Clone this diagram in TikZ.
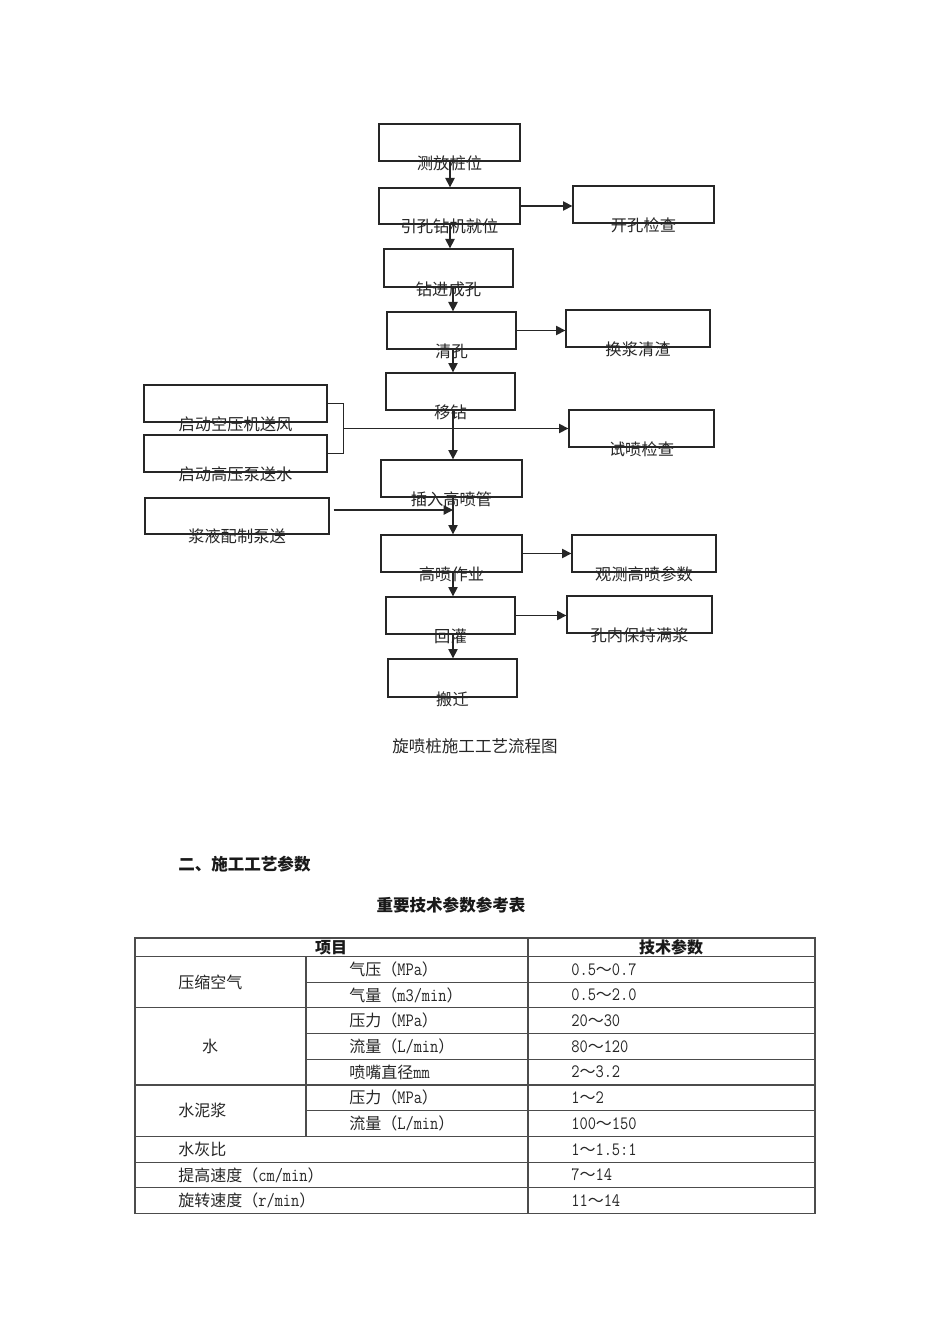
\documentclass[tikz,border=0pt]{standalone}
\usepackage{fontspec}
\usepackage{graphicx}
\setmainfont{Noto Sans CJK SC}
\usetikzlibrary{arrows.meta,calc}
\newcommand{\flowbox}[6]{%
  \node[box, minimum width=#4*0.75pt, minimum height=#5*0.75pt] (#1) at (#2,#3) {};
  \node[lbl] (#1-t) at ([yshift=-1pt]#1.south) {#6};}
\newcommand{\dg}[1]{\scalebox{1}[1.18]{\texttt{#1}}}
\begin{document}
\begin{tikzpicture}[x=0.75pt,y=-0.75pt,
  box/.style={draw=black!85, line width=1pt, inner sep=0pt, rectangle},
  lbl/.style={font=\fontsize{12.2}{14}\selectfont, text=black!85, inner sep=0pt},
  arr/.style={draw=black!85, line width=1pt, -{Triangle[length=7pt,width=7pt]}},
  ln/.style={draw=black!85, line width=1pt},
  tl/.style={draw=black!70, line width=0.8pt},
  tt/.style={font=\fontsize{12}{14}\selectfont, text=black!85, inner sep=0pt, anchor=west},
  ttc/.style={font=\fontsize{12}{14}\selectfont, text=black!85, inner sep=0pt},
  hd/.style={font=\fontsize{12.4}{14}\selectfont\bfseries, text=black!90, inner sep=0pt}]
\useasboundingbox[fill=white] (0,0) rectangle (950,1344);

% ---- flowchart boxes ----
\flowbox{tp}{449.5}{142.5}{141}{37}{测放桩位}
\flowbox{yk}{449.5}{206}{141}{36}{引孔钻机就位}
\flowbox{kk}{643.5}{204.5}{141}{37}{开孔检查}
\flowbox{zj}{448.5}{268}{129}{38}{钻进成孔}
\flowbox{qk}{451.5}{330.5}{129}{37}{清孔}
\flowbox{hj}{638}{328.5}{144}{37}{换浆清渣}
\flowbox{yz}{450.5}{391.5}{129}{37}{移钻}
\flowbox{kya}{235.5}{403.5}{183}{37}{启动空压机送风}
\flowbox{gyb}{235.5}{453.5}{183}{37}{启动高压泵送水}
\flowbox{sp}{641.5}{428.5}{145}{37}{试喷检查}
\flowbox{cr}{451.5}{478.5}{141}{37}{插入高喷管}
\flowbox{jy}{237}{516}{184}{36}{浆液配制泵送}
\flowbox{gp}{451.5}{553.5}{141}{37}{高喷作业}
\flowbox{gc}{644}{553.5}{144}{37}{观测高喷参数}
\flowbox{hg}{450.5}{615.5}{129}{37}{回灌}
\flowbox{mj}{639.5}{614.5}{145}{37}{孔内保持满浆}
\flowbox{bq}{452.5}{678}{129}{38}{搬迁}

% ---- spine ----
\coordinate (spineA) at (450,0);
\coordinate (spineB) at (453,0);
\draw[arr] (tp.south -| spineA) -- (yk.north -| spineA);
\draw[arr] (yk.south -| spineA) -- (zj.north -| spineA);
\draw[arr] (zj.south -| spineB) -- (qk.north -| spineB);
\draw[arr] (qk.south -| spineB) -- (yz.north -| spineB);
\draw[arr] (yz.south -| spineB) -- (cr.north -| spineB);
\draw[arr] (cr.south -| spineB) -- (gp.north -| spineB);
\draw[arr] (gp.south -| spineB) -- (hg.north -| spineB);
\draw[arr] (hg.south -| spineB) -- (bq.north -| spineB);

% ---- side arrows ----
\draw[arr] (yk.east) -- (yk.east -| kk.west);
\draw[arr] (qk.east) -- (qk.east -| hj.west);
\draw[arr] (gp.east) -- (gp.east -| gc.west);
\draw[arr] (hg.east) -- (hg.east -| mj.west);

% ---- bracket ----
\coordinate (bra) at ($(kya.east)+(16,0)$);
\draw[ln] (kya.east) -- (bra) |- (gyb.east);
\coordinate (brm) at ($(kya.east)!0.5!(gyb.east)+(16,0)$);
\draw[arr] (brm) -- (brm -| sp.west);

% ---- slurry feed ----
\coordinate (jyo) at ($(jy.east)+(4,-6)$);
\draw[arr] (jyo) -- (jyo -| spineB);

% ---- caption and headings ----
\node[lbl, font=\fontsize{12.4}{14}\selectfont] (cap) at (475,746) {旋喷桩施工工艺流程图};
\node[hd, anchor=west] (h2) at (178,864) {二、施工工艺参数};
\node[hd] (h3) at (451,905) {重要技术参数参考表};

% ---- table ----
\draw[tl] (135,938) rectangle (815,1213.5);
\draw[tl] (528,938) -- (528,1213.5);
\draw[tl] (306,956.5) -- (306,1136.4);
\draw[tl] (135,956.5) -- (815,956.5);
\draw[tl] (306,982.2) -- (815,982.2);
\draw[tl] (135,1007.9) -- (815,1007.9);
\draw[tl] (306,1033.6) -- (815,1033.6);
\draw[tl] (306,1059.3) -- (815,1059.3);
\draw[tl] (135,1085) -- (815,1085);
\draw[tl] (306,1110.7) -- (815,1110.7);
\draw[tl] (135,1136.4) -- (815,1136.4);
\draw[tl] (135,1162.1) -- (815,1162.1);
\draw[tl] (135,1187.8) -- (815,1187.8);

\node[hd, font=\fontsize{12}{14}\selectfont\bfseries] (th1) at (331,947.5) {项目};
\node[hd, font=\fontsize{12}{14}\selectfont\bfseries] (th2) at (671,947.5) {技术参数};

\node[tt] (g1) at (178,982.2) {压缩空气};
\node[ttc] (g2) at (210,1046.45) {水};
\node[tt] (g3) at (178,1110.7) {水泥浆};

\node[tt] (s1) at (349,969.35) {气压（\dg{MPa}）};
\node[tt] (s2) at (349,995.05) {气量（\dg{m3/min}）};
\node[tt] (s3) at (349,1020.75) {压力（\dg{MPa}）};
\node[tt] (s4) at (349,1046.45) {流量（\dg{L/min}）};
\node[tt] (s5) at (349,1072.15) {喷嘴直径\dg{mm}};
\node[tt] (s6) at (349,1097.85) {压力（\dg{MPa}）};
\node[tt] (s7) at (349,1123.55) {流量（\dg{L/min}）};
\node[tt] (s8) at (178,1149.25) {水灰比};
\node[tt] (s9) at (178,1174.95) {提高速度（\dg{cm/min}）};
\node[tt] (s10) at (178,1200.65) {旋转速度（\dg{r/min}）};

\node[tt] (v1) at (571,969.35) {\dg{0.5}～\dg{0.7}};
\node[tt] (v2) at (571,995.05) {\dg{0.5}～\dg{2.0}};
\node[tt] (v3) at (571,1020.75) {\dg{20}～\dg{30}};
\node[tt] (v4) at (571,1046.45) {\dg{80}～\dg{120}};
\node[tt] (v5) at (571,1072.15) {\dg{2}～\dg{3.2}};
\node[tt] (v6) at (571,1097.85) {\dg{1}～\dg{2}};
\node[tt] (v7) at (571,1123.55) {\dg{100}～\dg{150}};
\node[tt] (v8) at (571,1149.25) {\dg{1}～\dg{1.5:1}};
\node[tt] (v9) at (571,1174.95) {\dg{7}～\dg{14}};
\node[tt] (v10) at (571,1200.65) {\dg{11}～\dg{14}};
\end{tikzpicture}
\end{document}
